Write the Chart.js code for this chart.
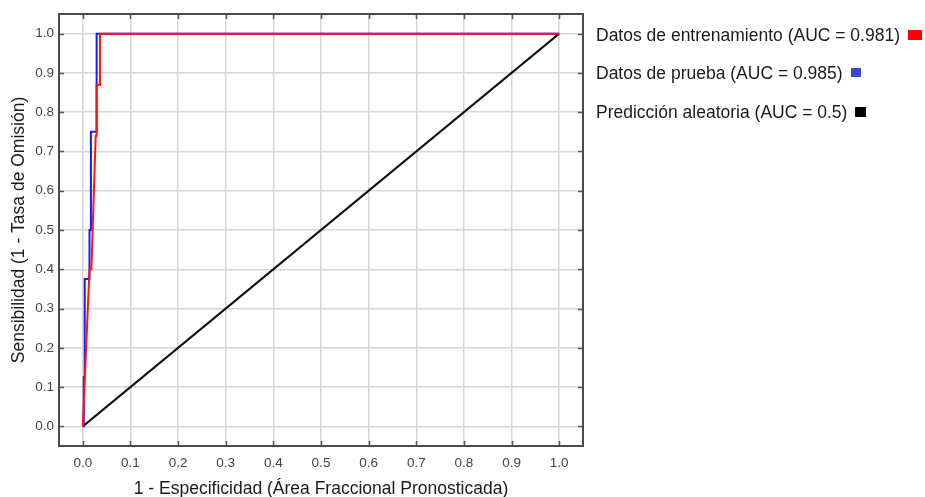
<!DOCTYPE html>
<html>
<head>
<meta charset="utf-8">
<script src="https://cdn.jsdelivr.net/npm/chart.js@4/dist/chart.umd.min.js"></script>
<style>
  html, body { margin: 0; padding: 0; background: #ffffff; }
  #wrap { position: relative; width: 925px; height: 497px; }
</style>
</head>
<body>
<div id="wrap"><canvas id="roc" width="925" height="497"></canvas></div>
<script>
// ROC curves: training data, test data and the random-prediction diagonal
const trainFpr = [0, 0.014, 0.018, 0.027, 0.029, 0.029, 0.036, 0.036, 1];
const trainTpr = [0, 0.40, 0.40, 0.74, 0.74, 0.87, 0.87, 1, 1];

const testFpr = [0, 0.002, 0.002, 0.004, 0.004, 0.014, 0.014, 0.017, 0.017, 0.029, 0.029, 1];
const testTpr = [0, 0, 0.125, 0.125, 0.375, 0.375, 0.5, 0.5, 0.75, 0.75, 1, 1];

const randomFpr = [0, 1];
const randomTpr = [0, 1];

const seriesLabels = [
  'Datos de entrenamiento (AUC = 0.981)',
  'Datos de prueba (AUC = 0.985)',
  'Predicción aleatoria (AUC = 0.5)'
];
const lineColors = ['#ff1414', '#1a1aff', '#111111'];
const swatchColors = ['#ff0000', '#3b48d0', '#000000'];

const tickValues = [0, 0.1, 0.2, 0.3, 0.4, 0.5, 0.6, 0.7, 0.8, 0.9, 1.0];

const xTitle = '1 - Especificidad (Área Fraccional Pronosticada)';
const yTitle = 'Sensibilidad (1 - Tasa de Omisión)';

const FONT = '"Liberation Sans", Arial, sans-serif';

function pts(xs, ys) { return xs.map((x, i) => ({ x: x, y: ys[i] })); }

// frame, inner tick marks and the legend on the right
const framePlugin = {
  id: 'frame',
  afterDatasetsDraw(chart) {
    const ctx = chart.ctx;
    const a = chart.chartArea;
    const xs = chart.scales.x, ys = chart.scales.y;
    ctx.save();
    ctx.strokeStyle = '#555555';
    ctx.lineWidth = 1.5;
    const tl = 5;
    ctx.beginPath();
    tickValues.forEach(v => {
      const px = Math.round(xs.getPixelForValue(v)) + 0.5;
      ctx.moveTo(px, a.bottom); ctx.lineTo(px, a.bottom - tl);
      ctx.moveTo(px, a.top); ctx.lineTo(px, a.top + tl);
      const py = Math.round(ys.getPixelForValue(v)) + 0.5;
      ctx.moveTo(a.left, py); ctx.lineTo(a.left + tl, py);
      ctx.moveTo(a.right, py); ctx.lineTo(a.right - tl, py);
    });
    ctx.stroke();
    ctx.strokeStyle = '#4a4a4a';
    ctx.lineWidth = 2;
    ctx.strokeRect(a.left, a.top, a.right - a.left, a.bottom - a.top);
    ctx.restore();
  },
  afterDraw(chart) {
    const ctx = chart.ctx;
    ctx.save();
    ctx.font = '17.5px ' + FONT;
    ctx.textBaseline = 'alphabetic';
    ctx.textAlign = 'left';
    const x0 = 596;
    const baselines = [40.5, 79, 118];
    const boxes = [[14, 10], [10, 9], [11, 10]];
    seriesLabels.forEach((label, i) => {
      ctx.fillStyle = '#1a1a1a';
      ctx.fillText(label, x0, baselines[i]);
      const w = ctx.measureText(label).width;
      const [bw, bh] = boxes[i];
      ctx.fillStyle = swatchColors[i];
      ctx.fillRect(Math.round(x0 + w + 8), Math.round(baselines[i] - 11), bw, bh);
    });
    ctx.restore();
  }
};

const PAD_LEFT = 0, PAD_TOP = 14, PAD_RIGHT = 342, PAD_BOTTOM = 0;

// dataset 0 is painted last, so the training curve sits on top
new Chart(document.getElementById('roc'), {
  type: 'scatter',
  data: {
    datasets: [
      { label: seriesLabels[0], data: pts(trainFpr, trainTpr), borderColor: lineColors[0] },
      { label: seriesLabels[1], data: pts(testFpr, testTpr), borderColor: lineColors[1] },
      { label: seriesLabels[2], data: pts(randomFpr, randomTpr), borderColor: lineColors[2] }
    ].map(d => Object.assign(d, {
      showLine: true, borderWidth: 2, pointRadius: 0, pointHoverRadius: 0,
      fill: false, tension: 0, clip: false
    }))
  },
  options: {
    responsive: false,
    animation: false,
    events: [],
    layout: { padding: { left: PAD_LEFT, top: PAD_TOP, right: PAD_RIGHT, bottom: PAD_BOTTOM } },
    plugins: { legend: { display: false }, tooltip: { enabled: false } },
    scales: {
      x: {
        type: 'linear', min: -0.05, max: 1.05,
        afterBuildTicks: s => { s.ticks = tickValues.map(v => ({ value: v })); },
        afterFit: s => { s.height = 497 - 446 - PAD_BOTTOM; },
        grid: { color: '#d6d6d6', lineWidth: 1.5, drawTicks: false },
        border: { display: false },
        ticks: {
          padding: 9, color: '#444444', font: { family: FONT, size: 13.5 },
          maxRotation: 0, callback: v => v.toFixed(1)
        },
        title: {
          display: true, text: xTitle, color: '#1a1a1a',
          font: { family: FONT, size: 17.5 }, padding: { top: -3, bottom: -3 }
        }
      },
      y: {
        type: 'linear', min: -0.05, max: 1.05,
        afterBuildTicks: s => { s.ticks = tickValues.map(v => ({ value: v })); },
        afterFit: s => { s.width = 59 - PAD_LEFT; },
        grid: { color: '#d6d6d6', lineWidth: 1.5, drawTicks: false },
        border: { display: false },
        ticks: {
          padding: 5, color: '#444444', font: { family: FONT, size: 13.5 },
          callback: v => v.toFixed(1)
        },
        title: {
          display: true, text: yTitle, color: '#1a1a1a',
          font: { family: FONT, size: 17.5 }, padding: { top: 9, bottom: 0 }
        }
      }
    }
  },
  plugins: [framePlugin]
});
</script>
</body>
</html>
